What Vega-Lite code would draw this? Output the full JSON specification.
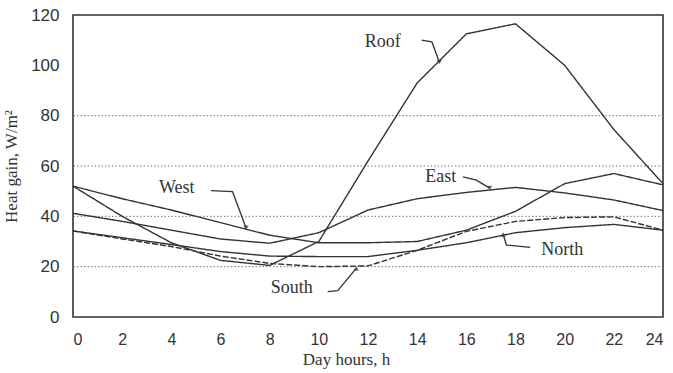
{
  "$schema": "https://vega.github.io/schema/vega-lite/v6.json",
  "width": 590,
  "height": 302,
  "autosize": {"type": "none"},
  "padding": {"left": 73, "top": 15, "right": 10, "bottom": 56},
  "background": "white",
  "config": {
    "view": {"stroke": "#333", "strokeWidth": 1.6},
    "axis": {
      "labelFont": "Liberation Sans",
      "labelFontSize": 16,
      "labelColor": "#333",
      "titleFont": "Liberation Serif",
      "titleFontSize": 17,
      "titleFontWeight": "normal",
      "titleColor": "#333",
      "grid": false,
      "ticks": false,
      "domain": false
    }
  },
  "datasets": {
    "curves": [
      {"series": "Roof", "hour": 0, "value": 52},
      {"series": "Roof", "hour": 2, "value": 40},
      {"series": "Roof", "hour": 4, "value": 29.5},
      {"series": "Roof", "hour": 6, "value": 22.5},
      {"series": "Roof", "hour": 8, "value": 20.5},
      {"series": "Roof", "hour": 10, "value": 30},
      {"series": "Roof", "hour": 12, "value": 62},
      {"series": "Roof", "hour": 14, "value": 93},
      {"series": "Roof", "hour": 16, "value": 112.5},
      {"series": "Roof", "hour": 18, "value": 116.5},
      {"series": "Roof", "hour": 20, "value": 100},
      {"series": "Roof", "hour": 22, "value": 74.5},
      {"series": "Roof", "hour": 24, "value": 53},
      {"series": "West", "hour": 0, "value": 52},
      {"series": "West", "hour": 2, "value": 47},
      {"series": "West", "hour": 4, "value": 42.5},
      {"series": "West", "hour": 6, "value": 37.5},
      {"series": "West", "hour": 8, "value": 32.5},
      {"series": "West", "hour": 10, "value": 29.5},
      {"series": "West", "hour": 12, "value": 29.5},
      {"series": "West", "hour": 14, "value": 30},
      {"series": "West", "hour": 16, "value": 34.5},
      {"series": "West", "hour": 18, "value": 42},
      {"series": "West", "hour": 20, "value": 53},
      {"series": "West", "hour": 22, "value": 57},
      {"series": "West", "hour": 24, "value": 52.5},
      {"series": "East", "hour": 0, "value": 41.2},
      {"series": "East", "hour": 2, "value": 38},
      {"series": "East", "hour": 4, "value": 34.5},
      {"series": "East", "hour": 6, "value": 31},
      {"series": "East", "hour": 8, "value": 29.3},
      {"series": "East", "hour": 10, "value": 33.5},
      {"series": "East", "hour": 12, "value": 42.5},
      {"series": "East", "hour": 14, "value": 47},
      {"series": "East", "hour": 16, "value": 49.5},
      {"series": "East", "hour": 18, "value": 51.5},
      {"series": "East", "hour": 20, "value": 49.3},
      {"series": "East", "hour": 22, "value": 46.5},
      {"series": "East", "hour": 24, "value": 42.3},
      {"series": "North", "hour": 0, "value": 34.2},
      {"series": "North", "hour": 2, "value": 31.5},
      {"series": "North", "hour": 4, "value": 28.8},
      {"series": "North", "hour": 6, "value": 26},
      {"series": "North", "hour": 8, "value": 24.2},
      {"series": "North", "hour": 10, "value": 24},
      {"series": "North", "hour": 12, "value": 24},
      {"series": "North", "hour": 14, "value": 26.5},
      {"series": "North", "hour": 16, "value": 29.5},
      {"series": "North", "hour": 18, "value": 33.5},
      {"series": "North", "hour": 20, "value": 35.5},
      {"series": "North", "hour": 22, "value": 36.8},
      {"series": "North", "hour": 24, "value": 34.5},
      {"series": "South", "hour": 0, "value": 34.2},
      {"series": "South", "hour": 2, "value": 31},
      {"series": "South", "hour": 4, "value": 28},
      {"series": "South", "hour": 6, "value": 24.2},
      {"series": "South", "hour": 8, "value": 21.3},
      {"series": "South", "hour": 10, "value": 20},
      {"series": "South", "hour": 12, "value": 20.3},
      {"series": "South", "hour": 14, "value": 26.5},
      {"series": "South", "hour": 16, "value": 34},
      {"series": "South", "hour": 18, "value": 38},
      {"series": "South", "hour": 20, "value": 39.5},
      {"series": "South", "hour": 22, "value": 39.8},
      {"series": "South", "hour": 24, "value": 34.5}
    ],
    "gridlines": [{"value": 20}, {"value": 40}, {"value": 60}, {"value": 80}],
    "labels": [
      {"series": "Roof", "hour": 12.6, "value": 109.3},
      {"series": "West", "hour": 4.22, "value": 51.2},
      {"series": "East", "hour": 14.96, "value": 55.7},
      {"series": "North", "hour": 19.9, "value": 26.6},
      {"series": "South", "hour": 8.9, "value": 11.5}
    ],
    "leaders": [
      {"series": "Roof", "step": 1, "hour": 14.18, "value": 110},
      {"series": "Roof", "step": 2, "hour": 14.6, "value": 109.3},
      {"series": "Roof", "step": 3, "hour": 14.9, "value": 101.3},
      {"series": "West", "step": 1, "hour": 5.61, "value": 50.2},
      {"series": "West", "step": 2, "hour": 6.49, "value": 49.8},
      {"series": "West", "step": 3, "hour": 7.04, "value": 35.4},
      {"series": "East", "step": 1, "hour": 15.86, "value": 55.7},
      {"series": "East", "step": 2, "hour": 16.41, "value": 54.4},
      {"series": "East", "step": 3, "hour": 16.95, "value": 51.2},
      {"series": "North", "step": 1, "hour": 18.6, "value": 27.7},
      {"series": "North", "step": 2, "hour": 17.63, "value": 28.6},
      {"series": "North", "step": 3, "hour": 17.5, "value": 32.8},
      {"series": "South", "step": 1, "hour": 10.36, "value": 10.1},
      {"series": "South", "step": 2, "hour": 10.77, "value": 10.5},
      {"series": "South", "step": 3, "hour": 11.52, "value": 19.3}
    ]
  },
  "layer": [
    {
      "data": {"name": "gridlines"},
      "mark": {"type": "rule", "stroke": "#777", "strokeWidth": 1, "strokeDash": [1.5, 2]},
      "encoding": {
        "y": {"field": "value", "type": "quantitative", "scale": {"domain": [0, 120], "nice": false}}
      }
    },
    {
      "data": {"name": "curves"},
      "mark": {"type": "line", "stroke": "#333", "strokeWidth": 1.4},
      "encoding": {
        "x": {
          "field": "hour", "type": "quantitative",
          "scale": {"domain": [0, 24], "nice": false},
          "axis": {"values": [0, 2, 4, 6, 8, 10, 12, 14, 16, 18, 20, 22, 24], "labelPadding": 14, "title": "Day hours, h", "titlePadding": 4, "titleX": 273}
        },
        "y": {
          "field": "value", "type": "quantitative",
          "scale": {"domain": [0, 120], "nice": false},
          "axis": {"values": [0, 20, 40, 60, 80, 100, 120], "labelPadding": 14, "labelFontSize": 17, "title": "Heat gain, W/m²", "titlePadding": 10}
        },
        "detail": {"field": "series"},
        "strokeDash": {
          "field": "series", "type": "nominal",
          "scale": {"domain": ["Roof", "West", "East", "North", "South"], "range": [[1, 0], [1, 0], [1, 0], [1, 0], [6, 2]]},
          "legend": null
        }
      }
    },
    {
      "data": {"name": "leaders"},
      "mark": {"type": "line", "stroke": "#333", "strokeWidth": 1.3},
      "encoding": {
        "x": {"field": "hour", "type": "quantitative"},
        "y": {"field": "value", "type": "quantitative"},
        "detail": {"field": "series"},
        "order": {"field": "step"}
      }
    },
    {
      "data": {"name": "leaders"},
      "transform": [{"filter": "datum.step == 3"}],
      "mark": {"type": "point", "filled": true, "fill": "#333", "size": 28, "strokeWidth": 0},
      "encoding": {
        "x": {"field": "hour", "type": "quantitative"},
        "y": {"field": "value", "type": "quantitative"},
        "shape": {
          "field": "series", "type": "nominal",
          "scale": {"domain": ["Roof", "West", "East", "North", "South"], "range": ["triangle-down", "triangle-down", "triangle-down", "triangle-up", "triangle-up"]},
          "legend": null
        }
      }
    },
    {
      "data": {"name": "labels"},
      "mark": {"type": "text", "font": "Liberation Serif", "fontSize": 18, "fill": "#333", "align": "center", "baseline": "middle"},
      "encoding": {
        "x": {"field": "hour", "type": "quantitative"},
        "y": {"field": "value", "type": "quantitative"},
        "text": {"field": "series"}
      }
    }
  ]
}
